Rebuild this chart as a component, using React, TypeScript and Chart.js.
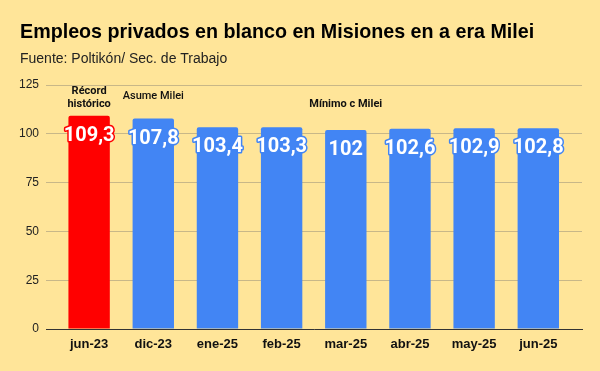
import React, { useEffect, useRef } from "react";
import { Chart, registerables } from "chart.js";

Chart.register(...registerables);

const categories = ["jun-23", "dic-23", "ene-25", "feb-25", "mar-25", "abr-25", "may-25", "jun-25"];
const values = [109.3, 107.8, 103.4, 103.3, 102, 102.6, 102.9, 102.8];
const barColors = ["#FF0000", "#4285F4", "#4285F4", "#4285F4", "#4285F4", "#4285F4", "#4285F4", "#4285F4"];
const yTicks = [0, 25, 50, 75, 100, 125];
const titleText = "Empleos privados en blanco en Misiones en a era Milei";
const subtitleText = "Fuente: Poltikón/ Sec. de Trabajo";
const noteRecord = ["Récord", "histórico"];
const noteAsume = "Asume Milei";
const noteMinimo = "Mínimo c Milei";

const BG = "#FFE599";

const headerPlugin = {
  id: "header",
  afterDraw(chart: any) {
    const ctx = chart.ctx;
    ctx.save();
    ctx.fillStyle = "#000";
    ctx.textAlign = "left";
    ctx.textBaseline = "alphabetic";
    ctx.font = "bold 19.7px 'Liberation Sans', Arial, sans-serif";
    ctx.fillText(titleText, 20, 38);
    ctx.fillStyle = "#222";
    ctx.font = "14px 'Liberation Sans', Arial, sans-serif";
    ctx.fillText(subtitleText, 20, 63);
    ctx.restore();
  },
};

const notesPlugin = {
  id: "notes",
  afterDatasetsDraw(chart: any) {
    const ctx = chart.ctx;
    const xs = chart.scales.x;
    const ys = chart.scales.y;
    ctx.save();
    ctx.fillStyle = "#111";
    ctx.textAlign = "center";
    ctx.textBaseline = "middle";
    ctx.font = "bold 11px Roboto, sans-serif";
    ctx.fillText(noteRecord[0], xs.getPixelForValue(0), ys.getPixelForValue(121.8));
    ctx.fillText(noteRecord[1], xs.getPixelForValue(0), ys.getPixelForValue(115));
    ctx.font = "500 11px Roboto, sans-serif";
    ctx.fillText(noteAsume, xs.getPixelForValue(1), ys.getPixelForValue(119));
    ctx.font = "bold 11px Roboto, sans-serif";
    ctx.fillText(noteMinimo, xs.getPixelForValue(4), ys.getPixelForValue(115.3));

    // value labels
    const meta = chart.getDatasetMeta(0);
    ctx.font = "bold 20px Roboto, sans-serif";
    ctx.lineJoin = "round";
    ctx.lineWidth = 3;
    meta.data.forEach((el: any, i: number) => {
      const label = String(values[i]).replace(".", ",");
      const y = el.y + 20;
      ctx.strokeStyle = barColors[i];
      ctx.strokeText(label, el.x, y);
      ctx.fillStyle = "#FFFFFF";
      ctx.fillText(label, el.x, y);
    });
    ctx.restore();
  },
};

export default function App() {
  const canvasRef = useRef<HTMLCanvasElement | null>(null);

  useEffect(() => {
    document.body.style.margin = "0";
    const canvas = canvasRef.current;
    if (!canvas) return;
    const chart = new Chart(canvas, {
      type: "bar",
      data: {
        datasets: [
          {
            data: values.map((v, i) => ({ x: i, y: v })),
            backgroundColor: barColors,
            borderWidth: 0,
            borderRadius: { topLeft: 2, topRight: 2, bottomLeft: 0, bottomRight: 0 },
            borderSkipped: false,
            barPercentage: 0.645,
            categoryPercentage: 1,
          },
        ],
      },
      options: {
        animation: false,
        responsive: false,
        maintainAspectRatio: false,
        devicePixelRatio: 1,
        layout: { padding: { top: 85, right: 18, bottom: 0, left: 0 } },
        plugins: {
          legend: { display: false },
          title: { display: false },
          tooltip: { enabled: false },
        },
        scales: {
          x: {
            type: "linear",
            offset: false,
            min: -0.672,
            max: 7.681,
            grid: { display: false, drawTicks: false, offset: false },
            border: { display: true, color: "#333333", width: 1 },
            afterBuildTicks: (scale: any) => {
              scale.ticks = categories.map((_, i) => ({ value: i }));
            },
            afterFit: (scale: any) => {
              scale.height = 42;
            },
            ticks: {
              padding: 8,
              autoSkip: false,
              maxRotation: 0,
              color: "#111",
              font: { family: "'Liberation Sans', Arial, sans-serif", size: 13, weight: "bold" },
              callback: (v: any) => categories[v] ?? "",
            },
          },
          y: {
            min: 0,
            max: 125,
            afterBuildTicks: (scale: any) => {
              scale.ticks = yTicks.map((v) => ({ value: v }));
            },
            afterFit: (scale: any) => {
              scale.width = 46;
            },
            grid: { color: "#C8B788", lineWidth: 1, drawTicks: false },
            border: { display: false },
            ticks: {
              padding: 7,
              color: "#222",
              font: { family: "'Liberation Sans', Arial, sans-serif", size: 12 },
            },
          },
        },
      },
      plugins: [headerPlugin, notesPlugin],
    } as any);
    return () => chart.destroy();
  }, []);

  return (
    <div style={{ width: 600, height: 371, background: BG }}>
      <canvas ref={canvasRef} width={600} height={371} style={{ display: "block" }} />
    </div>
  );
}
